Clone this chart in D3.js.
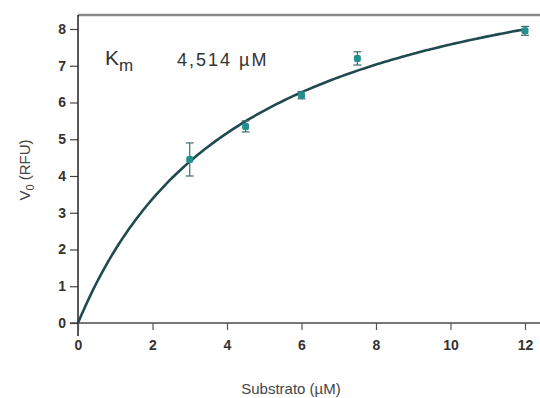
<!DOCTYPE html>
<html>
<head>
<meta charset="utf-8">
<script src="https://d3js.org/d3.v7.min.js"></script>
<style>
body { margin:0; background:#fff; }
text { font-family: "Liberation Sans", Arial, sans-serif; }
</style>
</head>
<body>
<div id="chart"></div>
<script>
// measured points (mean +/- error)
var substrate = [3, 4.5, 6, 7.5, 12];
var v0 = [4.45, 5.35, 6.2, 7.2, 7.95];
var err = [0.45, 0.15, 0.1, 0.18, 0.12];
// Michaelis-Menten fit
var km = 4.514;
var vmax = 11.0;
var xTicks = [0, 2, 4, 6, 8, 10, 12];
var yTicks = [0, 1, 2, 3, 4, 5, 6, 7, 8];

var width = 540, height = 398;
var svg = d3.select("#chart").append("svg").attr("width", width).attr("height", height);

var x = d3.scaleLinear().domain([0, 12]).range([78, 525]);
var y = d3.scaleLinear().domain([0, 8]).range([323, 29]);

// frame
svg.append("line").attr("x1", 78).attr("x2", 540).attr("y1", 15).attr("y2", 15)
  .attr("stroke", "#8a8a8a").attr("stroke-width", 2.5);
svg.append("line").attr("x1", 70).attr("x2", 540).attr("y1", 323).attr("y2", 323)
  .attr("stroke", "#777").attr("stroke-width", 2);

var yAxis = svg.append("g").attr("transform", "translate(78,0)")
  .call(d3.axisLeft(y).tickValues(yTicks).tickSize(8).tickPadding(4).tickFormat(d3.format("d")));
yAxis.select(".domain").remove();
yAxis.selectAll("line").attr("stroke", "#444").attr("stroke-width", 1.2);
yAxis.selectAll("text").attr("font-size", 14).attr("font-weight", "bold").attr("fill", "#333");
svg.append("line").attr("x1", 78).attr("x2", 78).attr("y1", 15).attr("y2", 336)
  .attr("stroke", "#222").attr("stroke-width", 1.5);

var xAxis = svg.append("g").attr("transform", "translate(0,323)")
  .call(d3.axisBottom(x).tickValues(xTicks).tickSize(7).tickPadding(10).tickFormat(d3.format("d")));
xAxis.select(".domain").remove();
xAxis.selectAll("line").attr("stroke", "#555").attr("stroke-width", 1.2);
xAxis.selectAll("text").attr("font-size", 14).attr("font-weight", "bold").attr("fill", "#333");

// axis titles
svg.append("text").attr("x", 291).attr("y", 394).attr("text-anchor", "middle")
  .attr("font-size", 15).attr("fill", "#444").text("Substrato (\u00b5M)");
var yl = svg.append("text").attr("transform", "translate(30,170) rotate(-90)")
  .attr("text-anchor", "middle").attr("font-size", 15).attr("fill", "#444");
yl.append("tspan").text("V");
yl.append("tspan").attr("font-size", 11).attr("dy", 4).text("0");
yl.append("tspan").attr("dy", -4).text(" (RFU)");

// Km annotation
var kt = svg.append("text").attr("x", 105).attr("y", 65).attr("font-size", 21).attr("fill", "#333");
kt.append("tspan").text("K");
kt.append("tspan").attr("font-size", 17).attr("dy", 6).text("m");
svg.append("text").attr("x", 177).attr("y", 66).attr("font-size", 18).attr("letter-spacing", 2).attr("fill", "#333")
  .text(String(km).replace(".", ",") + " \u00b5M");

// fitted curve
var xs = d3.range(0, 12.001, 0.1);
var line = d3.line().x(d => x(d)).y(d => y(vmax * d / (km + d))).curve(d3.curveBasis);
svg.append("path").datum(xs).attr("d", line).attr("fill", "none")
  .attr("stroke", "#1e4a50").attr("stroke-width", 2.6);

// error bars
var pts = substrate.map((s, i) => ({s: s, v: v0[i], e: err[i]}));
var eb = svg.append("g").selectAll("g").data(pts).join("g").attr("stroke", "#3f6a6e").attr("stroke-width", 1.2);
eb.append("line").attr("x1", d => x(d.s)).attr("x2", d => x(d.s)).attr("y1", d => y(d.v - d.e)).attr("y2", d => y(d.v + d.e));
eb.append("line").attr("x1", d => x(d.s) - 4).attr("x2", d => x(d.s) + 4).attr("y1", d => y(d.v - d.e)).attr("y2", d => y(d.v - d.e));
eb.append("line").attr("x1", d => x(d.s) - 4).attr("x2", d => x(d.s) + 4).attr("y1", d => y(d.v + d.e)).attr("y2", d => y(d.v + d.e));

svg.append("g").selectAll("rect").data(pts).join("rect")
  .attr("x", d => x(d.s) - 3.5).attr("y", d => y(d.v) - 3.5).attr("width", 7).attr("height", 7)
  .attr("rx", 2).attr("fill", "#23908e");
</script>
</body>
</html>
